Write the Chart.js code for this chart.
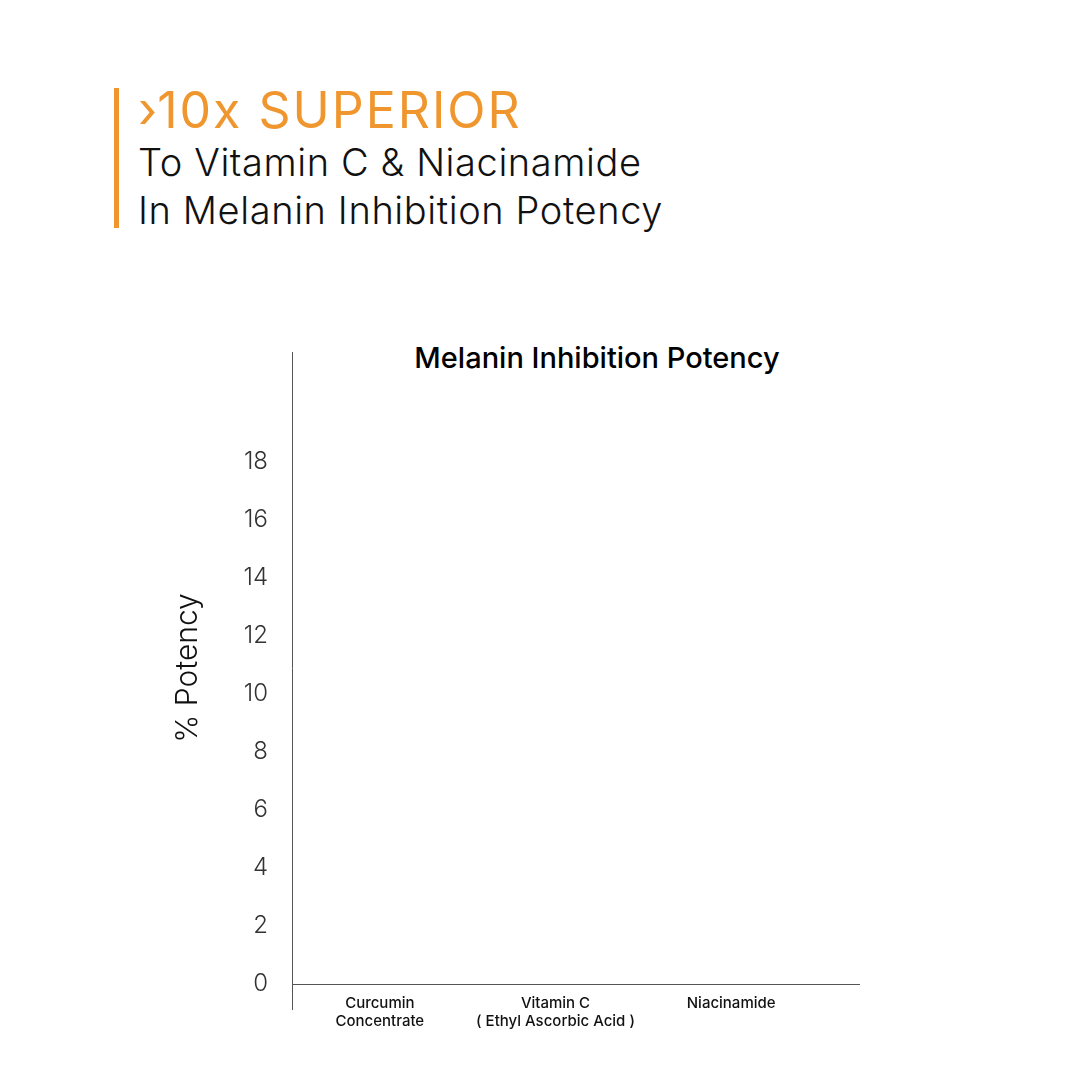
<!DOCTYPE html>
<html><head><meta charset="utf-8">
<script src="https://cdn.jsdelivr.net/npm/chart.js@4"></script>
<style>
body{margin:0;background:#fff;width:1080px;height:1080px;position:relative;overflow:hidden;font-family:Inter,"Open Sans",sans-serif}
#bar{position:absolute;left:114px;top:88px;width:5px;height:140px;background:#f0962e}
#h1{position:absolute;left:138px;top:80px;font-size:50px;color:#f0962e;font-weight:400;letter-spacing:2px}
.sub{position:absolute;left:138px;font-size:38px;color:#111;font-weight:300;letter-spacing:0.6px}
#ct{position:absolute;left:597px;top:340px;transform:translateX(-50%);font-size:29px;font-weight:500;color:#000;white-space:nowrap}
canvas{position:absolute;left:0;top:0}
</style></head><body>
<div id="bar"></div>
<div id="h1">›10x SUPERIOR</div>
<div class="sub" style="top:139px">To Vitamin C &amp; Niacinamide</div>
<div class="sub" style="top:187px">In Melanin Inhibition Potency</div>
<div id="ct">Melanin Inhibition Potency</div>
<canvas id="c" width="1080" height="1080"></canvas>
<script>
const categories=[["Curcumin","Concentrate"],["Vitamin C","( Ethyl Ascorbic Acid )"],["Niacinamide"]];
const potency=[0,0,0];
const tickMax=18;
const ext={id:'ext',afterDraw(c){const a=c.chartArea,x=c.ctx;x.save();x.strokeStyle='#555';x.lineWidth=1;x.beginPath();x.moveTo(a.left+0.5,a.bottom);x.lineTo(a.left+0.5,1010);x.moveTo(a.right,a.bottom+0.5);x.lineTo(860,a.bottom+0.5);x.stroke();x.restore();}};
new Chart(document.getElementById('c'),{type:'bar',
data:{labels:categories,datasets:[{data:potency,backgroundColor:'#f0962e'}]},
options:{responsive:false,animation:false,events:[],
layout:{padding:{left:170,top:352,right:261,bottom:48}},
plugins:{legend:{display:false},tooltip:{enabled:false}},
scales:{
x:{grid:{display:false},border:{color:'#555'},ticks:{color:'#111',font:{family:'Inter',size:15,weight:500},padding:2,maxRotation:0}},
y:{min:0,max:21.8,afterFit(s){s.width=122},grid:{display:false},border:{color:'#555'},
ticks:{stepSize:2,padding:16,color:'#333',font:{family:'Inter',size:24,weight:300},callback:v=>v<=tickMax?v:''},
title:{display:true,text:'% Potency',color:'#111',font:{family:'Inter',size:30,weight:300},padding:0}}
}},plugins:[ext]});
</script></body></html>
